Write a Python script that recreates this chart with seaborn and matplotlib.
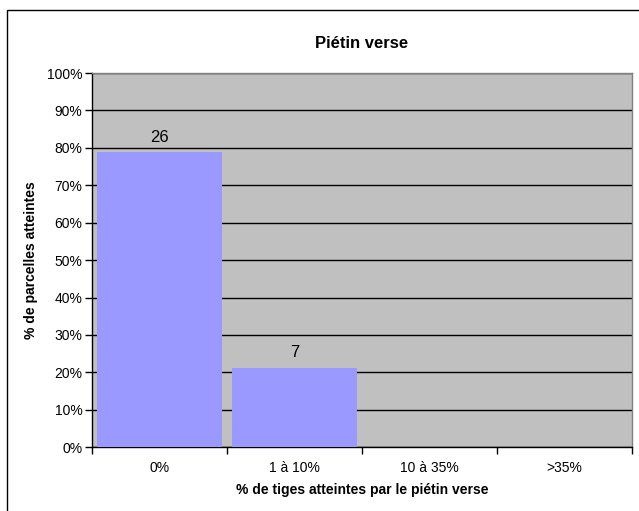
import pandas as pd
import numpy as np
import matplotlib.pyplot as plt
import seaborn as sns
from matplotlib.patches import Rectangle
from matplotlib.ticker import PercentFormatter

categories = ["0%", "1 à 10%", "10 à 35%", ">35%"]
counts = [26, 7, 0, 0]
total = sum(counts)
shares = [c / total * 100 for c in counts]

df = pd.DataFrame({"classe": categories, "part": shares, "n": counts})

sns.set_style("white")
plt.rcParams['font.family'] = ['Liberation Sans', 'DejaVu Sans']
plt.rcParams.update({"text.color": "black", "axes.labelcolor": "black",
                     "xtick.color": "black", "ytick.color": "black"})

fig = plt.figure(figsize=(6.39, 5.11), dpi=100)
ax = fig.add_axes([0.144, 0.125, 0.845, 0.732])
ax.set_facecolor("#C0C0C0")

sns.barplot(data=df, x="classe", y="part", color="#9999FF", saturation=1,
            width=0.92, linewidth=0, edgecolor="none", ax=ax, zorder=3)

ax.set_ylim(0, 100)
ax.set_xlim(-0.5, 3.5)
ax.set_yticks(np.arange(0, 101, 10))
ax.yaxis.set_major_formatter(PercentFormatter(decimals=0))
ax.grid(axis="y", color="black", linewidth=1, zorder=1)
ax.set_axisbelow(True)

# category separators as tick marks
ax.set_xticks([0, 1, 2, 3])
ax.set_xticks([-0.5, 0.5, 1.5, 2.5, 3.5], minor=True)
ax.tick_params(axis="x", which="major", bottom=False, length=0, labelsize=10, pad=10)
ax.tick_params(axis="x", which="minor", bottom=True, length=5, width=1, color="black", direction="out")
ax.tick_params(axis="y", left=True, length=5, width=1, color="black", direction="out", labelsize=10, pad=2)

for side in ["left", "bottom"]:
    ax.spines[side].set_color("black")
    ax.spines[side].set_linewidth(1)
for side in ["top", "right"]:
    ax.spines[side].set_color("#808080")
    ax.spines[side].set_linewidth(1)

for i, (v, n) in enumerate(zip(shares, counts)):
    if n > 0:
        ax.text(i, v + 2, str(n), ha="center", va="bottom", fontsize=12)

ax.set_title("Piétin verse", fontsize=12, fontweight="bold", pad=18)
ax.set_xlabel("% de tiges atteintes par le piétin verse", fontsize=10, fontweight="bold", labelpad=6)
ax.set_ylabel("% de parcelles atteintes", fontsize=10, fontweight="bold", labelpad=6)

fig.patches.append(Rectangle((7 / 639, -0.1), 1.2, 1 - 10 / 511 + 0.1, transform=fig.transFigure,
                             fill=False, edgecolor="black", linewidth=1))

fig.savefig("out.png", dpi=100)
